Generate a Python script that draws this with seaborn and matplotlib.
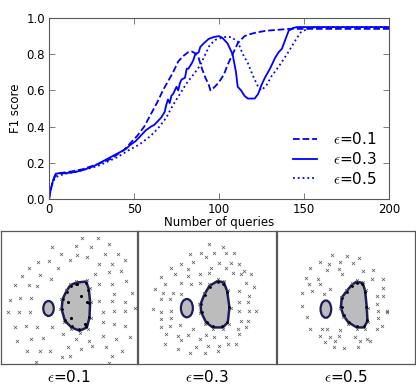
import numpy as np
import pandas as pd
import matplotlib
matplotlib.use("Agg")
import matplotlib.pyplot as plt
import seaborn as sns
from matplotlib.patches import Polygon, Ellipse

plt.rcParams['font.family'] = ['DejaVu Sans']
plt.rcParams['mathtext.fontset'] = 'cm'

# ---------------- top chart data ----------------
labels = [r"$\epsilon$=0.1", r"$\epsilon$=0.3", r"$\epsilon$=0.5"]
styles = ["--", "-", ":"]

x_e01 = [0,1,2,3,4,5,6,8,10,13,16,20,24,28,32,36,40,44,48,52,56,60,64,67,70,73,76,79,82,84,86,88,90,92,94,95,97,99,101,103,105,107,109,111,113,115,118,122,128,135,141,150,160,170,180,190,200]
y_e01 = [0,0.05,0.09,0.115,0.13,0.14,0.143,0.145,0.148,0.152,0.157,0.165,0.178,0.19,0.205,0.22,0.245,0.27,0.31,0.35,0.4,0.47,0.54,0.6,0.65,0.7,0.76,0.79,0.812,0.815,0.805,0.78,0.72,0.67,0.63,0.6,0.615,0.635,0.66,0.69,0.74,0.78,0.82,0.86,0.88,0.9,0.91,0.92,0.93,0.935,0.94,0.94,0.94,0.94,0.94,0.94,0.94]

x_e03 = [0,1,2,3,4,6,9,12,16,20,23,26,30,33,36,39,42,45,48,51,54,57,60,62,63,65,66,68,69,70,71,72,73,75,76,77,78,80,81,82,84,85,86,88,89,91,94,97,100,102,105,108,110,111,113,115,117,119,121,123,125,127,130,133,135,137,139,141,143.5,146,150,160,170,180,190,200]
y_e03 = [0,0.05,0.09,0.12,0.14,0.142,0.142,0.145,0.15,0.16,0.17,0.18,0.2,0.215,0.23,0.245,0.26,0.275,0.3,0.32,0.35,0.38,0.4,0.41,0.42,0.44,0.45,0.48,0.52,0.55,0.53,0.57,0.58,0.62,0.6,0.64,0.66,0.67,0.72,0.72,0.75,0.77,0.8,0.81,0.84,0.86,0.885,0.895,0.9,0.89,0.86,0.8,0.7,0.62,0.6,0.57,0.555,0.555,0.555,0.58,0.63,0.67,0.72,0.78,0.81,0.83,0.88,0.93,0.945,0.95,0.95,0.95,0.95,0.95,0.95,0.95]

x_e05 = [0,1,2.5,4,6,10,15,22,28,33,40,47,53,60,65,69,73,77,81,86,89,92,94.5,98,103,107,111,114,117,120,123,125,128,131,135,140,144.5,148,153,160,170,180,190,200]
y_e05 = [0,0.05,0.1,0.12,0.13,0.14,0.15,0.165,0.18,0.2,0.23,0.27,0.3,0.35,0.4,0.45,0.52,0.58,0.64,0.7,0.74,0.8,0.85,0.88,0.895,0.895,0.87,0.8,0.75,0.68,0.62,0.6,0.63,0.68,0.73,0.8,0.87,0.92,0.945,0.95,0.95,0.95,0.95,0.95]

xs = [x_e01, x_e03, x_e05]
ys = [y_e01, y_e03, y_e05]

# ---------------- bottom panels data (panel pixel coordinates) ----------------
panel_titles = [r"$\epsilon$=0.1", r"$\epsilon$=0.3", r"$\epsilon$=0.5"]

p1_x = [248,296,155,228,275,330,183,232,262,318,356,113,145,212,300,340,378,84,175,288,330,365,65,120,152,300,340,380,43,85,110,345,400,28,58,93,300,340,378,22,55,88,310,345,378,410,42,75,110,155,310,345,378,50,92,128,188,228,270,310,350,395,80,118,148,203,245,278,320,370,108,185,210,338,200,240,290,330]
p1_y = [22,20,48,45,47,40,70,72,77,68,70,92,90,88,98,100,88,110,110,128,123,120,135,133,143,160,160,150,162,162,165,190,186,208,200,200,210,210,215,243,243,245,245,240,240,232,290,285,290,290,275,280,285,330,325,322,310,325,330,315,325,320,360,360,360,348,355,345,350,360,395,380,375,375,408,408,402,398]

p2_x = [215,255,155,190,230,265,290,130,165,205,245,280,305,100,150,220,265,320,70,110,150,185,215,285,310,340,80,130,160,185,325,350,50,75,105,130,305,335,70,95,305,330,45,70,100,305,335,355,70,98,310,330,70,95,125,165,300,325,85,120,150,205,230,265,305,80,130,185,270,295,120,175,210,245,155,200,240]
p2_y = [40,48,70,65,65,65,65,98,93,78,95,95,100,110,115,110,110,120,138,130,135,130,125,125,128,130,160,155,160,155,155,168,175,185,185,190,180,195,205,205,215,215,235,245,240,240,240,240,265,262,270,270,290,285,283,295,295,290,310,315,312,312,318,318,310,340,328,325,340,340,355,350,345,345,368,368,362]

p3_x = [165,210,248,128,155,190,230,100,150,185,258,290,88,122,195,285,320,95,130,160,320,75,105,140,300,320,75,300,330,305,90,330,305,100,135,150,190,300,315,130,160,185,235,270,145,175,250,280,170,200,245]
p3_y = [72,75,82,92,100,92,95,112,118,115,120,118,140,145,130,145,145,160,160,175,170,185,180,190,195,195,225,220,240,240,258,245,262,295,295,295,298,295,285,315,320,315,318,325,335,330,330,330,348,352,350]

# blobs: small ellipse centre/size, big blob polygon
small_cx = [145, 147, 147]
small_cy = [233, 232, 235]
small_w = [32, 36, 32]
small_h = [45, 55, 52]

big1_x = [230,260,268,272,270,262,240,215,195,185,188,200,212]
big1_y = [155,152,175,215,260,290,300,290,270,235,205,180,163]
big2_x = [240,258,268,275,270,255,225,205,190,188,200,215]
big2_y = [150,155,180,230,275,290,290,275,245,220,190,165]
big3_x = [240,258,265,270,272,262,240,215,200,192,195,210,225]
big3_y = [152,157,180,230,270,290,290,275,255,230,200,180,162]

dots1_x = [243,215,262,232,205,255]
dots1_y = [195,262,215,160,215,280]

px = [p1_x, p2_x, p3_x]
py = [p1_y, p2_y, p3_y]
bigx = [big1_x, big2_x, big3_x]
bigy = [big1_y, big2_y, big3_y]

# ---------------- figure ----------------
W, H = 416, 387
fig = plt.figure(figsize=(W/100, H/100), dpi=100)

ax = fig.add_axes([49/W, 1-199/H, 340/W, 181/H])
for xv, yv, lab, ls in zip(xs, ys, labels, styles):
    sns.lineplot(x=xv, y=yv, ax=ax, color="#0000ff", linestyle=ls, linewidth=1.3,
                 label=lab, estimator=None, sort=False)
ax.set_xlim(0, 200)
ax.set_ylim(0, 1.0)
ax.set_xticks([0, 50, 100, 150, 200])
ax.set_yticks([0.0, 0.2, 0.4, 0.6, 0.8, 1.0])
ax.set_yticklabels(["0.0", "0.2", "0.4", "0.6", "0.8", "1.0"])
ax.tick_params(direction="in", top=True, right=True, labelsize=8.5, length=4, pad=3, width=0.6, color="0.4")
ax.set_xlabel("Number of queries", fontsize=8.5, labelpad=0)
ax.set_ylabel("F1 score", fontsize=8.5, labelpad=3)
for s in ax.spines.values():
    s.set_color("0.35")
    s.set_linewidth(0.8)
leg = ax.legend(loc="lower right", frameon=False, fontsize=11, handlelength=1.6,
                handletextpad=1.0, labelspacing=0.25, borderaxespad=0.4,
                bbox_to_anchor=(1.0, 0.0))

# panels
lefts = [1, 138, 277]
widths = [136, 138, 138]
for i in range(3):
    pax = fig.add_axes([lefts[i]/W, 1-364/H, widths[i]/W, 133/H])
    sns.scatterplot(x=px[i], y=py[i], ax=pax, marker="x", color="0.35", s=5, linewidth=0.5)
    # small blob
    pax.add_patch(Ellipse((small_cx[i], small_cy[i]), small_w[i], small_h[i],
                          facecolor="#bcbcbc", edgecolor="#1c1c5c", linewidth=1.6, zorder=2))
    # big blob
    poly = Polygon(list(zip(bigx[i], bigy[i])), closed=True, facecolor="#bcbcbc",
                   edgecolor="#1c1c5c", linewidth=1.8, zorder=2, joinstyle="round")
    pax.add_patch(poly)
    cx = np.mean(bigx[i]); cy = np.mean(bigy[i])
    bx = np.array(bigx[i], float); by = np.array(bigy[i], float)
    sns.scatterplot(x=cx + (bx-cx)*1.08, y=cy + (by-cy)*1.08, ax=pax, marker="x",
                    color="0.35", s=4, linewidth=0.5, zorder=3)
    sns.scatterplot(x=cx + (bx-cx)*0.95, y=cy + (by-cy)*0.95, ax=pax, marker="o",
                    color="black", s=4, linewidth=0, zorder=4)
    if i == 0:
        sns.scatterplot(x=dots1_x, y=dots1_y, ax=pax, marker="o", color="black", s=5, linewidth=0, zorder=4)
    pax.set_xlim(0, 415)
    pax.set_ylim(400, 0)
    pax.set_xticks([]); pax.set_yticks([])
    pax.set_xlabel(""); pax.set_ylabel("")
    for s in pax.spines.values():
        s.set_color("0.35")
        s.set_linewidth(0.9)
    legp = pax.get_legend()
    if legp is not None:
        legp.remove()
    fig.text((lefts[i] + widths[i]/2)/W, 1-377/H, panel_titles[i], ha="center", va="center", fontsize=11)

fig.savefig("out.png", dpi=100)
